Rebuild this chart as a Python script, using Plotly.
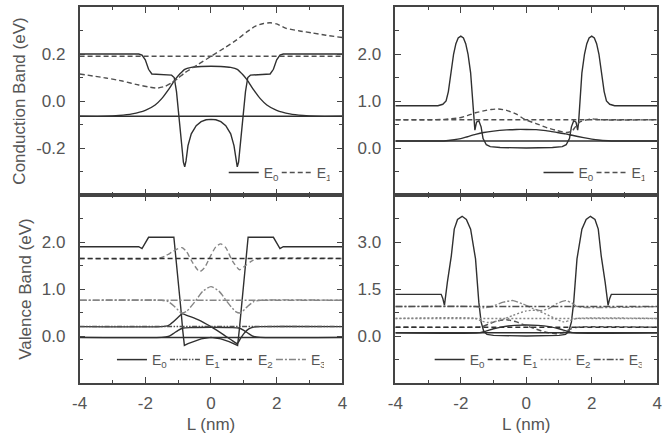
import plotly.graph_objects as go

# ---------------- data ----------------
# Panel A: conduction band, left
A_LEVEL_E0 = -0.065
A_LEVEL_E1 = 0.19
A_pot_x = [-4, -2.2, -2.1, -2.0, -1.9, -1.8, -1.2, -1.12, -1.05, -0.98, -0.9, -0.84, -0.8, -0.76, -0.7, -0.6, -0.45, -0.3, -0.15, 0,
           0.15, 0.3, 0.45, 0.6, 0.7, 0.76, 0.8, 0.84, 0.9, 0.98, 1.05, 1.12, 1.2, 1.8, 1.9, 2.0, 2.1, 2.2, 4]
A_pot_y = [0.2, 0.2, 0.195, 0.175, 0.135, 0.115, 0.11, 0.1, 0.04, -0.06, -0.18, -0.26, -0.28, -0.255, -0.19, -0.14, -0.105, -0.088, -0.08, -0.078,
           -0.08, -0.088, -0.105, -0.14, -0.19, -0.255, -0.28, -0.26, -0.18, -0.06, 0.04, 0.1, 0.11, 0.115, 0.135, 0.175, 0.195, 0.2, 0.2]
A_wf0_x = [-4, -3.2, -2.8, -2.4, -2.0, -1.7, -1.5, -1.3, -1.1, -0.95, -0.8, -0.6, -0.3, 0, 0.3, 0.6, 0.8, 0.95, 1.1, 1.3, 1.5, 1.7, 2.0, 2.4, 2.8, 3.2, 4]
A_wf0_y = [-0.065, -0.065, -0.062, -0.055, -0.04, -0.017, 0.01, 0.047, 0.09, 0.115, 0.135, 0.143, 0.147, 0.148, 0.147, 0.143, 0.135, 0.115, 0.09, 0.047, 0.01, -0.017, -0.04, -0.055, -0.062, -0.065, -0.065]
A_wf1_x = [-4, -3.2, -2.7, -2.2, -1.9, -1.65, -1.4, -1.2, -1.0, -0.8, -0.4, 0, 0.4, 0.78, 1.1, 1.37, 1.6, 1.8, 2.0, 2.27, 2.7, 3.07, 3.5, 4]
A_wf1_y = [0.115, 0.098, 0.085, 0.068, 0.06, 0.055, 0.062, 0.077, 0.097, 0.12, 0.155, 0.19, 0.225, 0.26, 0.295, 0.32, 0.33, 0.333, 0.328, 0.31, 0.298, 0.29, 0.28, 0.27]

# Panel B: conduction band, right
B_LEVEL_E0 = 0.15
B_LEVEL_E1 = 0.6
B_pot_x = [-4, -2.7, -2.55, -2.45, -2.38, -2.3, -2.22, -2.15, -2.08, -2.0, -1.92, -1.85, -1.78, -1.7, -1.64, -1.6, -1.57, -1.52, -1.45, -1.38, -1.32, -1.22, -1.1, -0.8, 0,
           0.8, 1.1, 1.22, 1.32, 1.38, 1.45, 1.52, 1.57, 1.6, 1.64, 1.7, 1.78, 1.85, 1.92, 2.0, 2.08, 2.15, 2.22, 2.3, 2.38, 2.45, 2.55, 2.7, 4]
B_pot_y = [0.9, 0.9, 0.93, 1.0, 1.2, 1.6, 2.0, 2.22, 2.34, 2.38, 2.34, 2.22, 2.0, 1.6, 1.0, 0.55, 0.38, 0.55, 0.58, 0.45, 0.2, 0.07, 0.03, 0.01, 0.0,
           0.01, 0.03, 0.07, 0.2, 0.45, 0.58, 0.55, 0.38, 0.55, 1.0, 1.6, 2.0, 2.22, 2.34, 2.38, 2.34, 2.22, 2.0, 1.6, 1.2, 1.0, 0.93, 0.9, 0.9]
B_wf0_x = [-4, -2.6, -2.45, -2.2, -2.0, -1.8, -1.55, -1.3, -1.0, -0.6, -0.3, 0, 0.3, 0.6, 0.95, 1.2, 1.4, 1.75, 2.0, 2.2, 2.5, 2.7, 4]
B_wf0_y = [0.15, 0.15, 0.155, 0.175, 0.2, 0.24, 0.29, 0.33, 0.36, 0.385, 0.395, 0.395, 0.39, 0.37, 0.33, 0.3, 0.27, 0.22, 0.19, 0.17, 0.155, 0.15, 0.15]
B_wf1_x = [-4, -3.0, -2.5, -2.05, -1.8, -1.55, -1.3, -1.07, -0.85, -0.6, -0.3, -0.05, 0.3, 0.64, 0.95, 1.24, 1.4, 1.5, 1.63, 1.8, 2.0, 2.3, 4]
B_wf1_y = [0.6, 0.6, 0.61, 0.64, 0.69, 0.75, 0.79, 0.82, 0.83, 0.8, 0.72, 0.61, 0.52, 0.43, 0.37, 0.33, 0.36, 0.45, 0.55, 0.59, 0.62, 0.6, 0.6]

# Panel C: valence band, left
C_LEVEL_E0 = -0.03
C_LEVEL_E1 = 0.2
C_LEVEL_E2 = 1.65
C_LEVEL_E3 = 0.76
C_pot_x = [-4, -2.2, -2.1, -2.0, -1.9, -1.13, -1.1, -1.0, -0.92, -0.86, -0.81, -0.7, -0.55, -0.3, 0,
           0.3, 0.55, 0.7, 0.81, 0.86, 0.92, 1.0, 1.1, 1.13, 1.9, 2.0, 2.1, 2.2, 4]
C_pot_y = [1.9, 1.9, 1.86, 1.98, 2.1, 2.1, 1.9, 1.2, 0.6, 0.12, -0.2, -0.16, -0.12, -0.06, -0.03,
           -0.06, -0.12, -0.16, -0.2, 0.12, 0.6, 1.2, 1.9, 2.1, 2.1, 1.98, 1.86, 1.9, 1.9]
C_wf0_x = [-4, -1.5, -1.3, -1.15, -1.0, -0.85, -0.6, 0, 0.6, 0.85, 1.0, 1.15, 1.3, 1.5, 4]
C_wf0_y = [-0.03, -0.03, -0.01, 0.05, 0.12, 0.17, 0.18, 0.185, 0.18, 0.17, 0.12, 0.05, -0.01, -0.03, -0.03]
C_wf1_x = [-4, -1.5, -1.3, -1.15, -1.0, -0.88, -0.7, -0.4, 0, 0.4, 0.65, 0.8, 0.9, 1.0, 1.15, 1.3, 1.5, 4]
C_wf1_y = [0.2, 0.2, 0.22, 0.3, 0.4, 0.47, 0.43, 0.35, 0.2, 0.02, -0.1, -0.16, -0.05, 0.05, 0.15, 0.19, 0.2, 0.2]
C_wf2_x = [-4, -1.6, -1.4, -1.2, -1.0, -0.88, -0.75, -0.55, -0.35, -0.2, 0, 0.15, 0.3, 0.45, 0.65, 0.87, 1.05, 1.25, 1.5, 4]
C_wf2_y = [1.65, 1.65, 1.7, 1.78, 1.86, 1.88, 1.8, 1.55, 1.37, 1.45, 1.72, 1.9, 1.96, 1.88, 1.6, 1.41, 1.5, 1.6, 1.65, 1.65]
C_wf3_x = [-4, -1.5, -1.3, -1.1, -0.9, -0.75, -0.5, -0.25, 0, 0.25, 0.5, 0.75, 0.9, 1.1, 1.3, 1.5, 4]
C_wf3_y = [0.76, 0.76, 0.73, 0.62, 0.49, 0.52, 0.72, 0.95, 1.05, 0.95, 0.72, 0.52, 0.49, 0.62, 0.73, 0.76, 0.76]

# Panel D: valence band, right
D_LEVEL_E0 = 0.1
D_LEVEL_E1 = 0.28
D_LEVEL_E2 = 0.56
D_LEVEL_E3 = 0.94
D_pot_x = [-4, -2.6, -2.55, -2.5, -2.41, -2.29, -2.2, -2.1, -1.96, -1.83, -1.7, -1.55, -1.45, -1.38, -1.3, -1.2, -1.0, 0,
           1.0, 1.2, 1.3, 1.38, 1.45, 1.55, 1.7, 1.83, 1.96, 2.1, 2.2, 2.29, 2.41, 2.5, 2.55, 2.6, 4]
D_pot_y = [1.33, 1.33, 1.2, 0.98, 1.72, 2.56, 3.41, 3.72, 3.82, 3.72, 3.41, 2.46, 1.08, 0.45, 0.15, 0.05, 0.02, 0.0,
           0.02, 0.05, 0.15, 0.45, 1.08, 2.46, 3.41, 3.72, 3.82, 3.72, 3.41, 2.56, 1.72, 0.98, 1.2, 1.33, 1.33]
D_wf0_x = [-4, -1.45, -1.25, -1.0, -0.7, -0.35, 0, 0.35, 0.7, 1.0, 1.25, 1.45, 4]
D_wf0_y = [0.1, 0.1, 0.15, 0.23, 0.3, 0.34, 0.35, 0.34, 0.3, 0.23, 0.15, 0.1, 0.1]
D_wf1_x = [-4, -1.55, -1.35, -1.15, -0.9, -0.6, -0.3, 0, 0.3, 0.6, 0.9, 1.15, 1.35, 1.55, 4]
D_wf1_y = [0.28, 0.28, 0.3, 0.38, 0.48, 0.52, 0.45, 0.33, 0.22, 0.12, 0.07, 0.12, 0.22, 0.28, 0.28]
D_wf2_x = [-4, -1.55, -1.35, -1.15, -0.8, -0.4, 0, 0.3, 0.6, 0.9, 1.15, 1.35, 1.55, 4]
D_wf2_y = [0.56, 0.56, 0.47, 0.43, 0.5, 0.66, 0.8, 0.82, 0.7, 0.55, 0.45, 0.5, 0.56, 0.56]
D_wf3_x = [-4, -1.55, -1.3, -1.05, -0.7, -0.4, -0.1, 0.2, 0.45, 0.7, 0.95, 1.2, 1.4, 1.55, 4]
D_wf3_y = [0.94, 0.94, 0.9, 0.94, 1.08, 1.13, 1.02, 0.88, 0.81, 0.88, 1.04, 1.13, 1.05, 0.94, 0.94]

X_RANGE = [-4, 4]
X_TICKS = [-4, -2, 0, 2, 4]
X_MINOR = [-3, -1, 1, 3]
Y_A = dict(rng=[-0.4, 0.4], ticks=[-0.2, 0.0, 0.2], minor=[-0.3, -0.1, 0.1, 0.3])
Y_B = dict(rng=[-1, 3], ticks=[0.0, 1.0, 2.0], minor=[-0.5, 0.5, 1.5, 2.5])
Y_C = dict(rng=[-1, 3], ticks=[0.0, 1.0, 2.0], minor=[-0.5, 0.5, 1.5, 2.5])
Y_D = dict(rng=[-1.5, 4.5], ticks=[0.0, 1.5, 3.0], minor=[-0.75, 0.75, 2.25, 3.75])

# ---------------- styles ----------------
DARK = "#303030"
MID = "#505050"
GRAY = "#858585"
TXT = "#555555"
FONT = "Liberation Sans, Arial, sans-serif"
DASH = "5px,3px"
DOT = "2px,2px"
DASHDOT = "7px,2px,2px,2px"
DASHDOTDOT = "5px,1.5px,1.5px,1.5px,1.5px,1.5px"

W, H = 671, 435
XL = [73 / W, 341 / W]
XR = [395 / W, 662 / W]
YT = [1 - 195 / H, 1 - 7 / H]
YB = [1 - 383 / H, 1 - 195 / H]

fig = go.Figure()


def line(x, y, xa, ya, color, dash="solid", width=1.4, name=None, legend=None, shape="linear"):
    fig.add_trace(go.Scatter(
        x=x, y=y, mode="lines", xaxis=xa, yaxis=ya,
        line=dict(color=color, width=width, dash=dash, shape=shape, smoothing=0.6),
        name=name if name else "", showlegend=legend is not None,
        legend=legend if legend else "legend", hoverinfo="skip"))


def level(v, xa, ya, color, dash, name, legend):
    line(X_RANGE, [v, v], xa, ya, color, dash, 1.5, name, legend)


E = ["E<sub>0</sub>", "E<sub>1</sub>", "E<sub>2</sub>", "E<sub>3</sub>"]

# Panel A
line(A_pot_x, A_pot_y, "x", "y", DARK)
line(A_wf0_x, A_wf0_y, "x", "y", DARK, shape="spline")
line(A_wf1_x, A_wf1_y, "x", "y", MID, DASH, shape="spline")
level(A_LEVEL_E0, "x", "y", DARK, "solid", E[0], "legend")
level(A_LEVEL_E1, "x", "y", MID, DASH, E[1], "legend")

# Panel B
line(B_pot_x, B_pot_y, "x2", "y2", DARK)
line(B_wf0_x, B_wf0_y, "x2", "y2", DARK, shape="spline")
line(B_wf1_x, B_wf1_y, "x2", "y2", MID, DASH, shape="spline")
level(B_LEVEL_E0, "x2", "y2", DARK, "solid", E[0], "legend2")
level(B_LEVEL_E1, "x2", "y2", MID, DASH, E[1], "legend2")

# Panel C
line(C_pot_x, C_pot_y, "x3", "y3", DARK)
line(C_wf0_x, C_wf0_y, "x3", "y3", DARK, shape="spline")
line(C_wf1_x, C_wf1_y, "x3", "y3", DARK, shape="spline")
line(C_wf2_x, C_wf2_y, "x3", "y3", GRAY, DASH, shape="spline")
line(C_wf3_x, C_wf3_y, "x3", "y3", GRAY, DASHDOT, shape="spline")
level(C_LEVEL_E0, "x3", "y3", DARK, "solid", E[0], "legend3")
level(C_LEVEL_E1, "x3", "y3", MID, DASHDOTDOT, E[1], "legend3")
level(C_LEVEL_E2, "x3", "y3", DARK, DASH, E[2], "legend3")
level(C_LEVEL_E3, "x3", "y3", GRAY, DASHDOT, E[3], "legend3")

# Panel D
line(D_pot_x, D_pot_y, "x4", "y4", DARK)
line(D_wf0_x, D_wf0_y, "x4", "y4", DARK, shape="spline")
line(D_wf1_x, D_wf1_y, "x4", "y4", MID, DASH, shape="spline")
line(D_wf2_x, D_wf2_y, "x4", "y4", GRAY, DOT, shape="spline")
line(D_wf3_x, D_wf3_y, "x4", "y4", GRAY, DASHDOT, shape="spline")
level(D_LEVEL_E0, "x4", "y4", DARK, "solid", E[0], "legend4")
level(D_LEVEL_E1, "x4", "y4", DARK, DASH, E[1], "legend4")
level(D_LEVEL_E2, "x4", "y4", GRAY, DOT, E[2], "legend4")
level(D_LEVEL_E3, "x4", "y4", MID, DASHDOT, E[3], "legend4")

AX = dict(showline=True, linecolor="#444444", linewidth=1.5, mirror="allticks",
          ticks="inside", ticklen=6, tickwidth=1.2, tickcolor="#444444",
          showgrid=False, zeroline=False, tickfont=dict(family=FONT, size=17, color=TXT))


def xaxis(domain, anchor, labels, title):
    return dict(AX, domain=domain, anchor=anchor, range=X_RANGE, tickmode="array",
                tickvals=X_TICKS, ticktext=[str(v) for v in X_TICKS], showticklabels=labels,
                ticklabelstandoff=4,
                minor=dict(tickmode="array", tickvals=X_MINOR, ticks="inside", ticklen=3.5,
                           tickwidth=1, tickcolor="#444444"),
                title=dict(text=title, font=dict(family=FONT, size=17, color=TXT), standoff=6) if title else None)


def yaxis(domain, anchor, spec, title):
    fmt = [f"{v:.1f}" for v in spec["ticks"]]
    return dict(AX, domain=domain, anchor=anchor, range=spec["rng"], tickmode="array",
                tickvals=spec["ticks"], ticktext=fmt, ticklabelstandoff=9,
                minor=dict(tickmode="array", tickvals=spec["minor"], ticks="inside", ticklen=3.5,
                           tickwidth=1, tickcolor="#444444"),
                title=dict(text=title, font=dict(family=FONT, size=17, color=TXT), standoff=6) if title else None)


LEG = dict(orientation="h", bgcolor="rgba(0,0,0,0)", font=dict(family=FONT, size=14, color=TXT),
           xanchor="left", yanchor="middle", itemclick=False, tracegroupgap=0,
           entrywidth=8, entrywidthmode="pixels")

fig.update_layout(
    width=W, height=H, margin=dict(l=0, r=0, t=0, b=0),
    paper_bgcolor="white", plot_bgcolor="white",
    font=dict(family=FONT, color=TXT),
    xaxis=xaxis(XL, "y", False, None),
    yaxis=yaxis(YT, "x", Y_A, "Conduction Band (eV)"),
    xaxis2=xaxis(XR, "y2", False, None),
    yaxis2=yaxis(YT, "x2", Y_B, None),
    xaxis3=xaxis(XL, "y3", True, "L (nm)"),
    yaxis3=yaxis(YB, "x3", Y_C, "Valence Band (eV)"),
    xaxis4=xaxis(XR, "y4", True, "L (nm)"),
    yaxis4=yaxis(YB, "x4", Y_D, None),
    legend=dict(LEG, x=220 / W, y=1 - 173 / H),
    legend2=dict(LEG, x=541 / W, y=1 - 173 / H),
    legend3=dict(LEG, x=106 / W, y=1 - 360 / H),
    legend4=dict(LEG, x=430 / W, y=1 - 360 / H),
)

fig.write_html("out.html")
